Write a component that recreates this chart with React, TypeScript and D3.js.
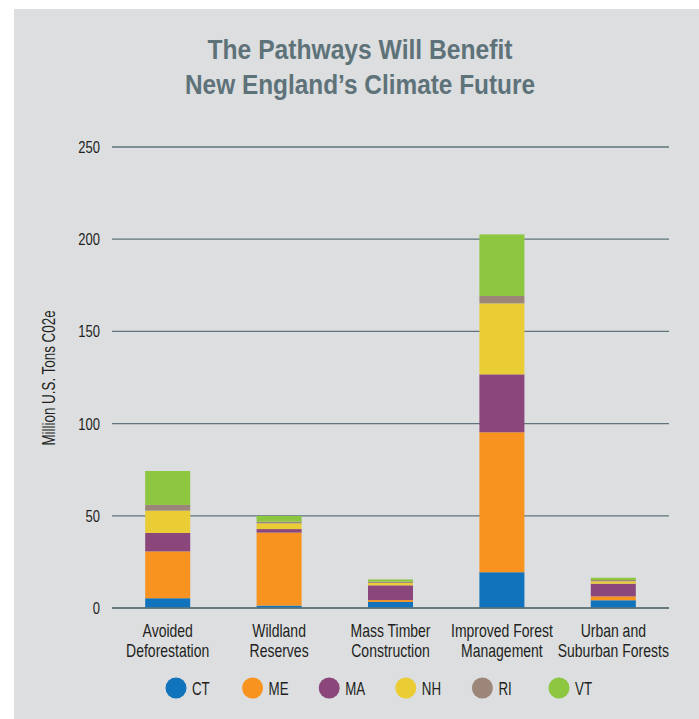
import React from "react";
import * as d3 from "d3";

const categories = [
  ["Avoided", "Deforestation"],
  ["Wildland", "Reserves"],
  ["Mass Timber", "Construction"],
  ["Improved Forest", "Management"],
  ["Urban and", "Suburban Forests"],
];
const states = ["CT", "ME", "MA", "NH", "RI", "VT"];
const colors = ["#1173bb", "#f7931e", "#8b477c", "#eacd35", "#9c8679", "#8dc63f"];
const CT = [5.3, 1.3, 3.3, 19.4, 4.2];
const ME = [25.4, 39.6, 1.0, 75.9, 2.1];
const MA = [10.0, 1.9, 8.0, 31.4, 6.9];
const NH = [12.1, 3.1, 1.3, 38.5, 1.3];
const RI = [3.1, 0.9, 0.7, 4.0, 0.7];
const VT = [18.4, 3.1, 1.2, 33.4, 1.2];
const yTicks = [0, 50, 100, 150, 200, 250];
const titleLines = ["The Pathways Will Benefit", "New England\u2019s Climate Future"];
const yTitle = "Million U.S. Tons C02e";

const W = 699;
const H = 719;
const FONT = "'Liberation Sans', Arial, sans-serif";

function NText({ x, y, size, sx = 0.75, anchor = "start", fill = "#231f20", weight = "normal", rotate = 0, children }: any) {
  return (
    <text
      transform={`translate(${x},${y}) rotate(${rotate}) scale(${sx},1)`}
      textAnchor={anchor}
      fontFamily={FONT}
      fontSize={size}
      fontWeight={weight}
      fill={fill}
    >
      {children}
    </text>
  );
}

export default function App() {
  const seriesValues = [CT, ME, MA, NH, RI, VT];
  const rows = categories.map((c, i) => {
    const r: any = { key: i };
    states.forEach((s, j) => (r[s] = seriesValues[j][i]));
    return r;
  });
  const stack = d3.stack().keys(states)(rows as any);

  const x = d3
    .scaleBand<number>()
    .domain(categories.map((_, i) => i))
    .range([112, 669])
    .paddingInner(0.596)
    .paddingOuter(0.298);
  const y = d3.scaleLinear().domain([0, 250]).range([608, 147]);

  const legendX = d3.scaleLinear().domain([0, 5]).range([176, 559]);
  const titleWidths = [305, 350];

  return (
    <div style={{ position: "absolute", left: 0, top: 0 }}>
      <svg width={W} height={H} style={{ display: "block" }}>
        <rect x={0} y={0} width={W} height={H} fill="#ffffff" />
        <rect x={14} y={9} width={W - 14} height={H - 9} fill="#dcdee0" />
        {titleLines.map((t, i) => (
          <text
            key={t}
            x={360 - titleWidths[i] / 2}
            y={59 + i * 35}
            textLength={titleWidths[i]}
            lengthAdjust="spacingAndGlyphs"
            fontFamily={FONT}
            fontWeight="bold"
            fontSize={28}
            fill="#5e7279"
          >
            {t}
          </text>
        ))}
        {yTicks.map((t) => (
          <g key={t}>
            <line x1={112} x2={669} y1={y(t)} y2={y(t)} stroke="#5f747a" strokeWidth={1.3} />
            <NText x={100} y={y(t) + 6} size={17} sx={0.765} anchor="end">
              {t}
            </NText>
          </g>
        ))}
        <NText x={55} y={378} size={17.5} sx={0.765} anchor="middle" rotate={-90}>
          {yTitle}
        </NText>
        {stack.map((layer, j) => (
          <g key={states[j]} fill={colors[j]}>
            {layer.map((d, i) => (
              <rect
                key={i}
                x={x(i)}
                width={x.bandwidth()}
                y={y(d[1])}
                height={Math.max(0, y(d[0]) - y(d[1]))}
              />
            ))}
          </g>
        ))}
        <line x1={112} x2={669} y1={y(0)} y2={y(0)} stroke="#5f747a" strokeWidth={1.3} />
        {categories.map((c, i) => {
          const cx = (x(i) as number) + x.bandwidth() / 2;
          return (
            <g key={i}>
              <NText x={cx} y={637.3} size={17.5} sx={0.8} anchor="middle">
                {c[0]}
              </NText>
              <NText x={cx} y={657.3} size={17.5} sx={0.8} anchor="middle">
                {c[1]}
              </NText>
            </g>
          );
        })}
        {states.map((s, j) => (
          <g key={s}>
            <circle cx={legendX(j)} cy={688} r={10.5} fill={colors[j]} />
            <NText x={legendX(j) + 16} y={694.5} size={18.5} sx={0.72}>
              {s}
            </NText>
          </g>
        ))}
      </svg>
    </div>
  );
}
